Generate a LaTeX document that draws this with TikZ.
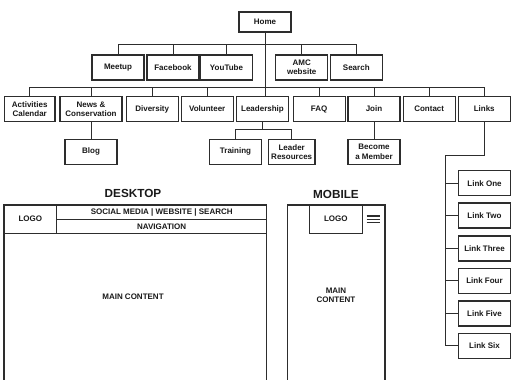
\documentclass[tikz,border=0pt]{standalone}
\usepackage{fontspec}
\setmainfont{Liberation Sans}
\usepackage{tikz}
\usetikzlibrary{calc}
\usetikzlibrary{positioning}
\definecolor{BoxGray}{RGB}{45,45,45}
\definecolor{InkBlack}{RGB}{25,25,25}
\definecolor{CellGray}{RGB}{110,110,110}

\begin{document}
\begin{tikzpicture}[x=0.75pt,y=-0.75pt,
		pagebox/.style={draw=BoxGray, line width=0.85pt, fill=white, align=center, inner sep=1pt,
			minimum width=39pt, minimum height=18.75pt, text=InkBlack,
			font=\bfseries\fontsize{6}{6.8}\selectfont},
		treeline/.style={draw=BoxGray, line width=0.7pt},
		framewall/.style={draw=BoxGray, line width=0.85pt},
		cell/.style={draw=BoxGray, line width=0.7pt, inner sep=0pt, text=InkBlack,
			font=\bfseries\fontsize{6}{6.8}\selectfont},
		celltext/.style={align=center, inner sep=0pt, text=InkBlack,
			font=\bfseries\fontsize{6}{6.8}\selectfont},
		viewtitle/.style={inner sep=0pt, text=InkBlack, font=\bfseries\fontsize{8.8}{10}\selectfont}]
		\useasboundingbox (0,0) rectangle (511,379);
		
		\node [pagebox, minimum height=15pt] (home) at (265,22) {Home};
		
		\node [pagebox] (meetup) at (118,67.5) {Meetup};
		\node [pagebox] (facebook) at (173,67.5) {Facebook};
		\node [pagebox] (youtube) at (226.5,67.5) {YouTube};
		\node [pagebox] (amc) at (301.7,67.5) {AMC\\website};
		\node [pagebox] (search) at (356.3,67.5) {Search};
		
		\node [pagebox, minimum width=38pt] (activities) at (29.7,109) {Activities\\Calendar};
		\node [pagebox, minimum width=46.5pt] (news) at (91,109) {News \&\\Conservation};
		\node [pagebox] (diversity) at (152.2,109) {Diversity};
		\node [pagebox] (volunteer) at (207.2,109) {Volunteer};
		\node [pagebox] (leadership) at (262.5,109) {Leadership};
		\node [pagebox] (faq) at (319.2,109) {FAQ};
		\node [pagebox] (join) at (374,109) {Join};
		\node [pagebox] (contact) at (429.2,109) {Contact};
		\node [pagebox] (links) at (484.2,109) {Links};
		
		\node [pagebox] (blog) at (91,151.8) {Blog};
		\node [pagebox] (training) at (235.5,151.8) {Training};
		\node [pagebox, minimum width=35pt] (leaderres) at (291.7,151.8) {Leader\\Resources};
		\node [pagebox] (become) at (374,151.8) {Become\\a Member};
		
		\node [pagebox, minimum width=38.6pt] (linkone) at (484.5,183.2) {Link One};
		\node [pagebox, minimum width=38.6pt] (linktwo) at (484.5,215.5) {Link Two};
		\node [pagebox, minimum width=38.6pt] (linkthree) at (484.5,248.5) {Link Three};
		\node [pagebox, minimum width=38.6pt] (linkfour) at (484.5,280.8) {Link Four};
		\node [pagebox, minimum width=38.6pt] (linkfive) at (484.5,313.5) {Link Five};
		\node [pagebox, minimum width=38.6pt] (linksix) at (484.5,345.8) {Link Six};
		
		\coordinate (topfork) at (265,44.5);
		\coordinate (navfork) at (265,87.5);
		\coordinate (leadfork) at (262.5,129.3);
		\coordinate (linkfork) at (445,155);
		
		\draw [treeline] (home.south) -- (home.south |- leadership.north);
		\draw [treeline] (meetup.north) |- (topfork) -| (search.north);
		\draw [treeline] (facebook.north) -- (facebook.north |- topfork);
		\draw [treeline] (youtube.north) -- (youtube.north |- topfork);
		\draw [treeline] (amc.north) -- (amc.north |- topfork);
		
		\draw [treeline] (activities.north) |- (navfork) -| (links.north);
		\draw [treeline] (news.north) -- (news.north |- navfork);
		\draw [treeline] (diversity.north) -- (diversity.north |- navfork);
		\draw [treeline] (volunteer.north) -- (volunteer.north |- navfork);
		\draw [treeline] (faq.north) -- (faq.north |- navfork);
		\draw [treeline] (join.north) -- (join.north |- navfork);
		\draw [treeline] (contact.north) -- (contact.north |- navfork);
		
		\draw [treeline] (news.south) -- (blog.north);
		\draw [treeline] (leadership.south) -- (leadfork);
		\draw [treeline] (training.north) |- (leadfork) -| (leaderres.north);
		\draw [treeline] (join.south) -- (become.north);
		
		\draw [treeline] (links.south) |- (linkfork) |- (linksix.west);
		\draw [treeline] (linkfork |- linkone.west) -- (linkone.west);
		\draw [treeline] (linkfork |- linktwo.west) -- (linktwo.west);
		\draw [treeline] (linkfork |- linkthree.west) -- (linkthree.west);
		\draw [treeline] (linkfork |- linkfour.west) -- (linkfour.west);
		\draw [treeline] (linkfork |- linkfive.west) -- (linkfive.west);
		
		\node [viewtitle] (desktoptitle) at (133,193.5) {DESKTOP};
		\draw [framewall] (4,205) rectangle (266.7,390);
		\node [cell, minimum width=39.5pt, minimum height=21.2pt] (desklogo) at (30.35,219.15) {LOGO};
		\node [cell, minimum width=157.5pt, minimum height=10.7pt] (deskmedia) at (161.7,212.15) {SOCIAL MEDIA | WEBSITE | SEARCH};
		\node [cell, minimum width=157.5pt, minimum height=10.5pt] (desknav) at (161.7,226.3) {NAVIGATION};
		\node [celltext] (deskmain) at (133,297) {MAIN CONTENT};
		
		\node [viewtitle] (mobiletitle) at (336,194) {MOBILE};
		\draw [framewall] (287.3,205) rectangle (385,390);
		\node [cell, minimum width=39.75pt, minimum height=21.2pt] (mobilelogo) at (335.8,219.15) {LOGO};
		\draw [line width=0.8pt, draw=BoxGray] (366.7,216) -- (380,216);
		\draw [line width=0.8pt, draw=BoxGray] (366.7,219.2) -- (380,219.2);
		\draw [line width=0.8pt, draw=BoxGray] (366.7,222.4) -- (380,222.4);
		\node [celltext] (mobilemain) at (336,295) {MAIN\\CONTENT};
	\end{tikzpicture}
\end{document}
